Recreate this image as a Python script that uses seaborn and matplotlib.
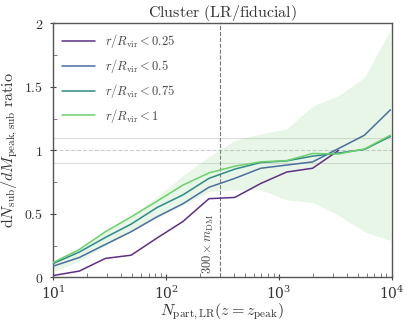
import numpy as np
import pandas as pd
import matplotlib
matplotlib.use('Agg')
import matplotlib.pyplot as plt
import seaborn as sns
from matplotlib.ticker import FixedLocator, FuncFormatter

sns.set_style('ticks')
plt.rcParams['font.family'] = ['DejaVu Serif']
plt.rcParams['mathtext.fontset'] = 'cm'
plt.rcParams['axes.unicode_minus'] = False

# ------------------------------------------------------------------
# data
# ------------------------------------------------------------------
n_part = [10, 17, 29, 49, 83, 141, 240, 407, 692, 1175, 1995, 3388, 5754, 9772]

ratio_r025 = [0.015, 0.05, 0.15, 0.175, 0.31, 0.44, 0.62, 0.63, 0.74, 0.83, 0.86, 1.00]
ratio_r05 = [0.089, 0.157, 0.26, 0.36, 0.477, 0.58, 0.71, 0.78, 0.86, 0.885, 0.91, 1.015, 1.12, 1.32]
ratio_r075 = [0.11, 0.20, 0.315, 0.42, 0.55, 0.65, 0.78, 0.853, 0.905, 0.918, 0.955, 0.98, 1.008, 1.11]
ratio_r1 = [0.118, 0.22, 0.36, 0.477, 0.60, 0.727, 0.823, 0.876, 0.91, 0.92, 0.976, 0.972, 1.012, 1.12]

band_lo = [0.045, 0.13, 0.25, 0.36, 0.47, 0.57, 0.675, 0.69, 0.69, 0.61, 0.59, 0.49, 0.36, 0.29]
band_hi = [0.12, 0.22, 0.36, 0.48, 0.635, 0.80, 0.95, 1.08, 1.13, 1.17, 1.35, 1.43, 1.575, 1.95]

labels = [r'$r/R_{\rm vir} < 0.25$', r'$r/R_{\rm vir} < 0.5$',
          r'$r/R_{\rm vir} < 0.75$', r'$r/R_{\rm vir} < 1$']
colors = ['#5e2f86', '#4a6f9e', '#2e8a88', '#6cd06a']
n_res = 300

series = [ratio_r025, ratio_r05, ratio_r075, ratio_r1]
frames = []
for lab, vals in zip(labels, series):
    frames.append(pd.DataFrame({'N': n_part[:len(vals)], 'ratio': vals, 'sample': lab}))
df = pd.concat(frames, ignore_index=True)

# ------------------------------------------------------------------
fig = plt.figure(figsize=(4.07, 3.26), dpi=100)
ax = fig.add_axes([0.131, 0.149, 0.831, 0.779])

ax.fill_between(n_part, band_lo, band_hi, color='#7fcf7f', alpha=0.18, linewidth=0, zorder=1)

ax.axhline(1.0, color='#cccccc', linestyle='--', linewidth=0.8, zorder=0)
ax.axhline(0.9, color='#dddddd', linestyle='-', linewidth=0.8, zorder=0)
ax.axhline(1.1, color='#dddddd', linestyle='-', linewidth=0.8, zorder=0)
ax.axvline(n_res, color='#777777', linestyle='--', linewidth=0.8, zorder=0)
ax.text(n_res * 0.93, 0.03, r'$300\times m_{\rm DM}$', rotation=90, ha='right', va='bottom',
        fontsize=9, color='#444444')

sns.lineplot(data=df, x='N', y='ratio', hue='sample', palette=colors, linewidth=1.1,
             ax=ax, legend=True, zorder=3)

ax.set_xscale('log')
ax.set_xlim(10, 1e4)
ax.set_ylim(0, 2)
ax.yaxis.set_major_locator(FixedLocator([0, 0.5, 1, 1.5, 2]))
ax.yaxis.set_minor_locator(FixedLocator([0.25, 0.75, 1.25, 1.75]))
ax.yaxis.set_major_formatter(FuncFormatter(lambda v, p: f'${v:g}$'))
ax.tick_params(which='major', direction='inout', length=5, width=0.8, labelsize=10, colors='#444444',
               labelcolor='#333333')
ax.tick_params(axis='x', which='major', pad=2.5)
ax.tick_params(axis='y', which='major', pad=5)
ax.tick_params(which='minor', direction='in', length=3, width=0.6, colors='#666666')
for s in ax.spines.values():
    s.set_color('#555555')
    s.set_linewidth(1.0)

ax.set_xlabel(r'$N_{\rm part,LR}(z=z_{\rm peak})$', fontsize=11.5, color='#333333', labelpad=0)
ax.set_ylabel(r'${\rm d}N_{\rm sub}/dM_{\rm peak,sub}\ {\rm ratio}$', fontsize=11.5, color='#333333',
              labelpad=3)
ax.set_title(r'${\rm Cluster\ (LR/fiducial)}$', fontsize=11.5, color='#333333', pad=3)

leg = ax.legend(loc='upper left', frameon=False, fontsize=9, handlelength=2.6,
                borderaxespad=0.3, labelspacing=0.55)
for t in leg.get_texts():
    t.set_color('#444444')

fig.savefig('out.png', dpi=100)
